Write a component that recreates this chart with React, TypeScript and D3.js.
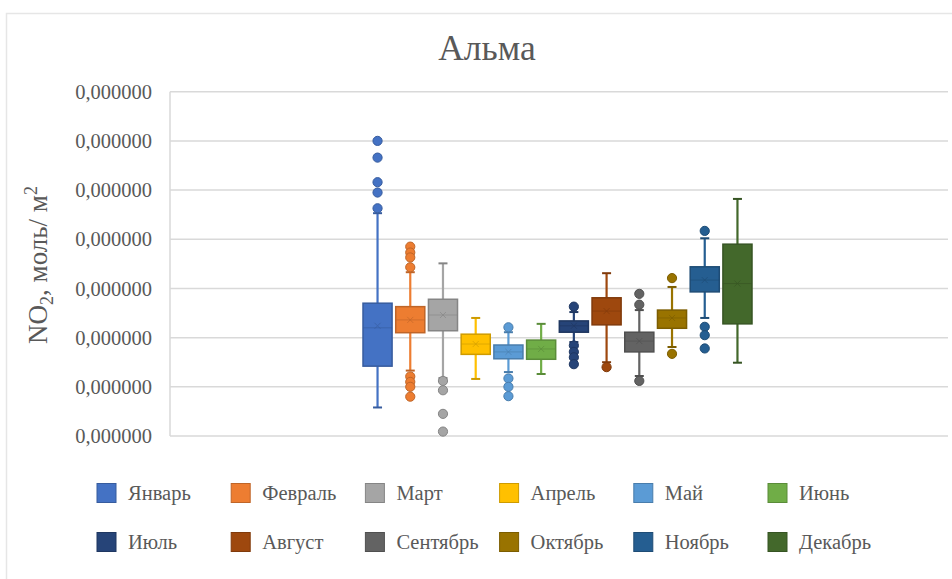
import React from "react";
import * as d3 from "d3";

// Values in units of 1e-8 mol/m²
const UNIT = 1e-8;
const title = "Альма";
const months = ["Январь", "Февраль", "Март", "Апрель", "Май", "Июнь", "Июль", "Август", "Сентябрь", "Октябрь", "Ноябрь", "Декабрь"];
const colors = ["#4472C4", "#ED7D31", "#A5A5A5", "#FFC000", "#5B9BD5", "#70AD47", "#264478", "#9E480E", "#636363", "#997300", "#255E91", "#43682B"];
const whiskerHigh = [4.53, 3.33, 3.51, 2.40, 2.11, 2.28, 2.52, 3.31, 2.56, 3.03, 4.02, 4.82];
const q3 = [2.70, 2.63, 2.78, 2.07, 1.85, 1.95, 2.34, 2.81, 2.11, 2.56, 3.44, 3.90];
const medians = [2.20, 2.36, 2.46, 1.87, 1.71, 1.77, 2.24, 2.54, 1.93, 2.40, 3.17, 3.10];
const means = [2.24, 2.36, 2.46, 1.87, 1.71, 1.77, 2.24, 2.54, 1.93, 2.40, 3.17, 3.10];
const q1 = [1.42, 2.10, 2.14, 1.66, 1.57, 1.56, 2.11, 2.26, 1.71, 2.19, 2.93, 2.28];
const whiskerLow = [0.58, 1.33, 1.18, 1.16, 1.30, 1.26, 1.91, 1.50, 1.22, 1.81, 2.40, 1.49];
const outliers = [
  [6.00, 5.66, 5.16, 4.95, 4.63],
  [3.85, 3.73, 3.63, 3.43, 1.21, 1.10, 1.00, 0.80],
  [1.12, 0.93, 0.45, 0.09],
  [],
  [2.21, 1.17, 1.00, 0.81],
  [],
  [2.63, 1.84, 1.71, 1.60, 1.46],
  [1.40],
  [2.89, 2.67, 1.12],
  [3.21, 1.67],
  [4.17, 2.22, 2.05, 1.78],
  [],
];
const yTicks = [0, 1, 2, 3, 4, 5, 6, 7];
const yTitle = "NO";

const W = 952;
const H = 579;
const plot = { left: 170, right: 948, top: 91.7, bottom: 436 };
const FONT = "'Liberation Serif', 'Times New Roman', serif";
const TEXT = "#595959";

export default function App() {
  const y = d3.scaleLinear().domain([0, 7]).range([plot.bottom, plot.top]);
  const x = d3.scaleBand<string>().domain(months).range([362, 753]).paddingInner(0.05);
  const bw = x.bandwidth();
  const fmt = (v: number) => d3.format(".6f")(v * UNIT).replace(".", ",");
  const dark = (c: string) => d3.color(c)!.darker(0.6).formatHex();

  return (
    <svg width={W} height={H} style={{ position: "absolute", left: 0, top: 0, background: "#fff" }}>
      <rect x={0} y={0} width={W} height={H} fill="#fff" />
      {/* chart border */}
      <path d={`M6.5,${H} V13.5 H${W}`} fill="none" stroke="#e6e6e6" strokeWidth={1.5} />
      <text x={487} y={60} textAnchor="middle" fontFamily={FONT} fontSize={35.5} fill={TEXT}>{title}</text>

      {/* gridlines */}
      {yTicks.map((t) => (
        <line key={t} x1={plot.left} x2={plot.right} y1={y(t)} y2={y(t)} stroke="#d9d9d9" strokeWidth={1.5} />
      ))}
      <line x1={plot.left} x2={plot.left} y1={y(7)} y2={y(0)} stroke="#d9d9d9" strokeWidth={1.5} />
      {yTicks.map((t) => (
        <text key={"l" + t} x={152} y={y(t)} dy="0.35em" textAnchor="end" fontFamily={FONT} fontSize={20.5} fill={TEXT}>{fmt(t)}</text>
      ))}
      <text transform={`translate(47,${265}) rotate(-90)`} textAnchor="middle" fontFamily={FONT} fontSize={27} fill={TEXT}>
        {yTitle}
        <tspan fontSize={18} dy={6}>2</tspan>
        <tspan dy={-6}>, моль/ м</tspan>
        <tspan fontSize={18} dy={-10}>2</tspan>
      </text>

      {/* boxes */}
      {months.map((m, i) => {
        const cx = x(m)! + bw / 2;
        const c = colors[i];
        const dc = dark(c);
        const capW = 9;
        return (
          <g key={m}>
            <line x1={cx} x2={cx} y1={y(whiskerHigh[i])} y2={y(q3[i])} stroke={c} strokeWidth={2.2} />
            <line x1={cx} x2={cx} y1={y(q1[i])} y2={y(whiskerLow[i])} stroke={c} strokeWidth={2.2} />
            <line x1={cx - capW / 2} x2={cx + capW / 2} y1={y(whiskerHigh[i])} y2={y(whiskerHigh[i])} stroke={dc} strokeWidth={2} />
            <line x1={cx - capW / 2} x2={cx + capW / 2} y1={y(whiskerLow[i])} y2={y(whiskerLow[i])} stroke={dc} strokeWidth={2} />
            <rect x={x(m)! + 1} y={y(q3[i])} width={bw - 2} height={y(q1[i]) - y(q3[i])} fill={c} stroke={dc} strokeWidth={1.5} />
            <line x1={x(m)! + 1} x2={x(m)! + bw - 1} y1={y(medians[i])} y2={y(medians[i])} stroke={dc} strokeWidth={1} opacity={0.6} />
            <path d={`M${cx - 3},${y(means[i]) - 3}L${cx + 3},${y(means[i]) + 3}M${cx - 3},${y(means[i]) + 3}L${cx + 3},${y(means[i]) - 3}`} stroke={dc} strokeWidth={1} opacity={0.6} />
            {outliers[i].map((v, j) => (
              <circle key={j} cx={cx} cy={y(v)} r={4.6} fill={c} stroke={dc} strokeWidth={1} />
            ))}
          </g>
        );
      })}

      {/* legend */}
      {months.map((m, i) => {
        const col = i % 6;
        const row = Math.floor(i / 6);
        const lx = 97 + col * 134.2;
        const ly = 493 + row * 49;
        return (
          <g key={"lg" + m}>
            <rect x={lx} y={ly - 9.5} width={19} height={19} fill={colors[i]} stroke={dark(colors[i])} strokeWidth={1} />
            <text x={lx + 31} y={ly} dy="0.35em" fontFamily={FONT} fontSize={20.5} fill={TEXT}>{m}</text>
          </g>
        );
      })}
    </svg>
  );
}
